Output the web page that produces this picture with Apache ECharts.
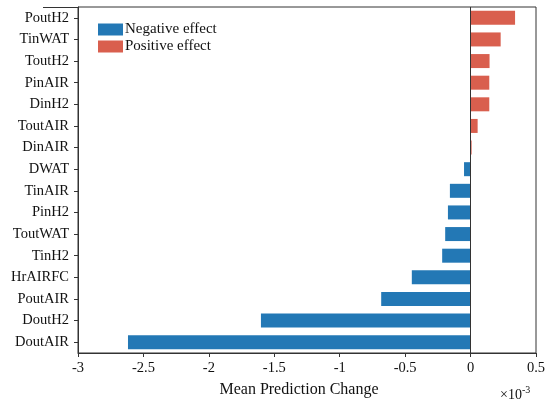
<!DOCTYPE html>
<html lang="en">
<head>
    <meta charset="UTF-8">
    <title>Mean Prediction Change</title>
    <script src="https://cdn.jsdelivr.net/npm/echarts@6/dist/echarts.min.js"></script>
    <style>
        * { padding: 0; margin: 0; }
        body { background: #fff; }
    </style>
</head>
<body>
<div id="chart" style="width:550px;height:405px;"></div>
<script>
    // features, top to bottom
    var features = ['PoutH2', 'TinWAT', 'ToutH2', 'PinAIR', 'DinH2', 'ToutAIR', 'DinAIR', 'DWAT',
        'TinAIR', 'PinH2', 'ToutWAT', 'TinH2', 'HrAIRFC', 'PoutAIR', 'DoutH2', 'DoutAIR'];
    // mean prediction change, x 10^-3
    var changes = [0.34, 0.23, 0.145, 0.143, 0.143, 0.054, 0.008, -0.05,
        -0.158, -0.173, -0.194, -0.217, -0.449, -0.683, -1.602, -2.618];

    var negVals = changes.map(v => v < 0 ? v : null);
    var posVals = changes.map(v => v >= 0 ? v : null);

    var font = '"Liberation Serif", "Times New Roman", serif';
    var axisColor = '#333';

    var chart = echarts.init(document.getElementById('chart'));
    var option = {
        animation: false,
        textStyle: {fontFamily: font},
        grid: {
            left: 78, right: 14, top: 7, bottom: 52,
            show: true, borderColor: axisColor, borderWidth: 1,
            containLabel: false
        },
        legend: {
            orient: 'vertical',
            left: 98, top: 22,
            padding: 0,
            itemWidth: 25, itemHeight: 12, itemGap: 2,
            icon: 'rect',
            textStyle: {fontFamily: font, fontSize: 15, color: '#111', padding: [0, 0, 0, -3]},
            data: ['Negative effect', 'Positive effect']
        },
        xAxis: {
            type: 'value',
            min: -3, max: 0.5, interval: 0.5,
            name: 'Mean Prediction Change',
            nameLocation: 'middle',
            nameGap: 29,
            nameTextStyle: {fontFamily: font, fontSize: 16, color: '#111', padding: [0, 16, 0, 0]},
            axisLine: {show: true, lineStyle: {color: axisColor}},
            axisTick: {show: true, length: 4, lineStyle: {color: axisColor}},
            axisLabel: {fontFamily: font, fontSize: 14.5, color: '#111', margin: 8},
            splitLine: {show: false}
        },
        yAxis: {
            type: 'category',
            inverse: true,
            data: features,
            axisLine: {show: true, onZero: false, lineStyle: {color: axisColor}},
            axisTick: {show: true, alignWithLabel: true, length: 4, lineStyle: {color: axisColor}},
            axisLabel: {fontFamily: font, fontSize: 14.5, color: '#111', margin: 9}
        },
        series: [
            {
                name: 'Negative effect',
                type: 'bar',
                stack: 'effect',
                data: negVals,
                barWidth: 14,
                itemStyle: {color: '#2378b5'},
                markLine: {
                    silent: true,
                    symbol: 'none',
                    label: {show: false},
                    lineStyle: {color: axisColor, width: 1, type: 'solid'},
                    data: [{xAxis: 0}]
                }
            },
            {
                name: 'Positive effect',
                type: 'bar',
                stack: 'effect',
                data: posVals,
                barWidth: 14,
                itemStyle: {color: '#d95f4e'}
            }
        ],
        graphic: [
            {
                // top border runs a bit past the y axis in the source figure
                type: 'line',
                shape: {x1: 43, y1: 7.5, x2: 78, y2: 7.5},
                style: {stroke: axisColor, lineWidth: 1}
            },
            {
                type: 'text',
                left: 500, top: 385,
                style: {
                    text: '×10{sup|-3}',
                    fontFamily: font, fontSize: 14, fill: '#111',
                    rich: {sup: {fontSize: 10, verticalAlign: 'top', padding: [0, 0, 10, 0], fontFamily: font}}
                }
            }
        ]
    };
    chart.setOption(option);
</script>
</body>
</html>
